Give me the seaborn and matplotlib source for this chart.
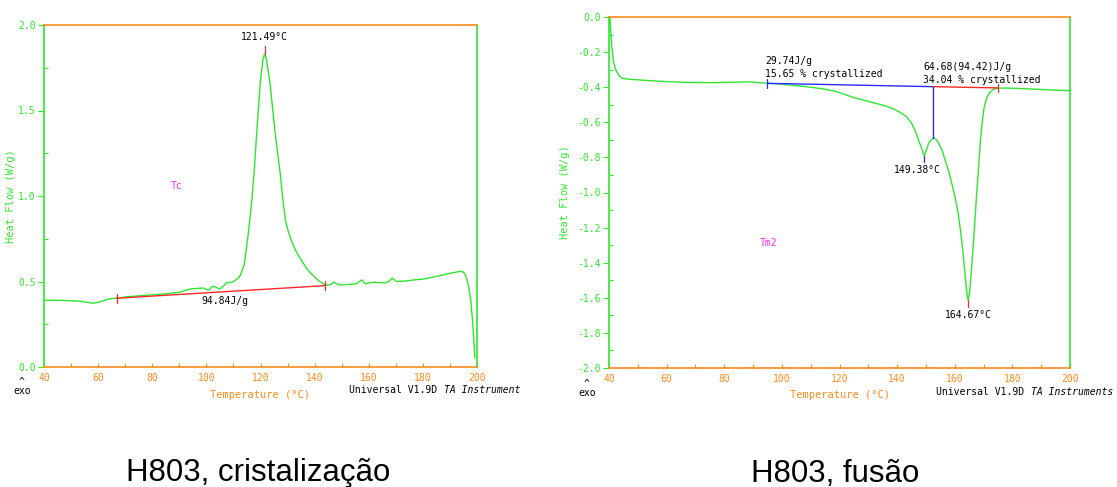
import matplotlib
matplotlib.use("Agg")
import matplotlib.pyplot as plt
import seaborn as sns
import numpy as np
import pandas as pd
from matplotlib.ticker import MultipleLocator, FormatStrFormatter
from matplotlib.transforms import Bbox, TransformedBbox

# ---- crystallization scan (cooling) ----
cryst_temp = [40, 45, 50, 53, 56, 58, 60, 62, 64, 66, 68, 70, 75, 80, 85, 90, 92, 94, 97, 99,
              100.4, 101.2, 102, 103, 104, 104.9, 106, 107.5, 109.4, 110.5, 112.2, 113.0, 114.0,
              115.5, 116.8, 117.7, 118.6, 119.9, 120.9, 121.49, 122.2, 123.5, 125.4, 127.3, 128.3,
              129.3, 130.5, 132.0, 133.7, 135.5, 136.9, 138.5, 140.1, 141.5, 143.3, 144.5, 146.0,
              147.1, 147.8, 149, 152, 155.5, 157.4, 158.7, 160, 162, 164, 166.3, 167.8, 168.6,
              169.5, 170.2, 173, 177.2, 181, 184.9, 188, 190, 192, 193.9, 195, 195.8, 196.8,
              197.7, 198.3, 198.7, 199.2]
cryst_flow = [0.390, 0.390, 0.388, 0.385, 0.378, 0.373, 0.378, 0.388, 0.397, 0.402, 0.404, 0.410,
              0.416, 0.422, 0.428, 0.437, 0.447, 0.456, 0.460, 0.462, 0.450, 0.452, 0.470, 0.470,
              0.463, 0.456, 0.470, 0.493, 0.495, 0.505, 0.525, 0.555, 0.600, 0.780, 0.975, 1.150,
              1.370, 1.660, 1.800, 1.830, 1.800, 1.660, 1.370, 1.130, 0.975, 0.850, 0.780, 0.715,
              0.660, 0.615, 0.580, 0.550, 0.525, 0.505, 0.486, 0.478, 0.482, 0.497, 0.490, 0.480,
              0.482, 0.487, 0.510, 0.486, 0.492, 0.496, 0.493, 0.492, 0.505, 0.520, 0.510, 0.500,
              0.502, 0.510, 0.516, 0.530, 0.540, 0.548, 0.554, 0.560, 0.555, 0.535, 0.480, 0.390,
              0.280, 0.190, 0.055]
cryst_base_temp = [66.8, 144.0]
cryst_base_flow = [0.402, 0.476]
cryst_peak_temp = 121.49
cryst_peak_flow = 1.830
cryst_enthalpy = "94.84J/g"

# ---- melting scan (second heating) ----
melt_temp = [40.3, 40.6, 40.9, 41.5, 42.2, 42.8, 43.7, 44.7, 47, 50, 54.3, 60, 67.1, 75, 80, 85,
             88.3, 92, 95.3, 100, 105.5, 110, 114.5, 119, 124.7, 128, 131.1, 134.5, 137.5, 140.5,
             143.3, 145, 146.5, 147.6, 148.4, 149.0, 149.38, 149.8, 150.3, 151.0, 151.6, 152.6,
             153.4, 154.2, 155.5, 156.7, 158.0, 159.3, 160.3, 161.2, 162.1, 162.9, 163.6, 164.2,
             164.67, 165.1, 165.6, 166.3, 167.0, 167.6, 168.3, 168.9, 169.6, 170.2, 171.0, 172.1,
             173.3, 174.7, 178, 182.3, 186, 190, 195, 200]
melt_flow = [0.000, -0.080, -0.155, -0.250, -0.295, -0.316, -0.338, -0.350, -0.355, -0.358, -0.363,
             -0.368, -0.373, -0.374, -0.373, -0.371, -0.369, -0.374, -0.378, -0.383, -0.392, -0.400,
             -0.410, -0.425, -0.458, -0.472, -0.486, -0.500, -0.515, -0.538, -0.568, -0.605, -0.657,
             -0.710, -0.742, -0.775, -0.790, -0.775, -0.750, -0.718, -0.704, -0.690, -0.695, -0.713,
             -0.755, -0.817, -0.885, -0.970, -1.040, -1.120, -1.230, -1.347, -1.470, -1.574, -1.615,
             -1.580, -1.480, -1.328, -1.160, -1.006, -0.850, -0.704, -0.590, -0.515, -0.465, -0.430,
             -0.413, -0.405, -0.405, -0.407, -0.410, -0.413, -0.417, -0.420]
melt_base1_temp = [95.0, 152.6]
melt_base1_flow = [-0.378, -0.397]
melt_base2_temp = [152.6, 175.0]
melt_base2_flow = [-0.397, -0.404]
melt_split_flow = -0.690
melt_peak1_temp, melt_peak1_flow = 149.38, -0.790
melt_peak2_temp, melt_peak2_flow = 164.67, -1.615
melt_label1 = "29.74J/g\n15.65 % crystallized"
melt_label2 = "64.68(94.42)J/g\n34.04 % crystallized"

captions = ["H803, cristalização", "H803, fusão"]

GREEN = "#2ee62e"
ORANGE = "#ff8a1c"
RED = "#ff2a2a"
BLUE = "#2a2aff"
MAGENTA = "#ff22ff"
MONO = "DejaVu Sans Mono"

sns.set_theme(style="white")
plt.rcParams["axes.unicode_minus"] = False
plt.rcParams["font.family"] = ["DejaVu Sans"]

fig = plt.figure(figsize=(11.17, 4.87), dpi=100)
W, H = 1117, 487
ax1 = fig.add_axes([44 / W, 1 - 367 / H, (477 - 44) / W, (367 - 25) / H])
ax2 = fig.add_axes([609 / W, 1 - 368 / H, (1070 - 609) / W, (368 - 17) / H])


def style_axes(ax, ylim, ymajor, yminor, ylabel_x):
    ax.set_xlim(40, 200)
    ax.set_ylim(*ylim)
    ax.xaxis.set_major_locator(MultipleLocator(20))
    ax.xaxis.set_minor_locator(MultipleLocator(10))
    ax.yaxis.set_major_locator(MultipleLocator(ymajor))
    ax.yaxis.set_minor_locator(MultipleLocator(yminor))
    ax.yaxis.set_major_formatter(FormatStrFormatter("%.1f"))
    ax.xaxis.set_major_formatter(FormatStrFormatter("%d"))
    for side in ("left", "right"):
        ax.spines[side].set_color(GREEN)
        ax.spines[side].set_linewidth(1.2)
    for side in ("top", "bottom"):
        ax.spines[side].set_color(ORANGE)
        ax.spines[side].set_linewidth(1.2)
    ax.tick_params(axis="x", which="both", direction="in", colors=ORANGE, labelsize=7,
                   bottom=True, top=False, pad=4, length=3, width=0.8)
    ax.tick_params(axis="y", which="major", direction="out", length=4, width=0.8,
                   colors=GREEN, labelsize=7, left=True, pad=2)
    ax.tick_params(axis="y", which="minor", direction="in", length=3, width=0.8,
                   colors=GREEN, left=True)
    for lab in ax.get_xticklabels() + ax.get_yticklabels():
        lab.set_family(MONO)
    ax.set_xlabel("Temperature (°C)", color=ORANGE, family=MONO, fontsize=7.5, labelpad=5)
    ax.set_ylabel("Heat Flow (W/g)", color=GREEN, family=MONO, fontsize=7.5)
    ax.yaxis.set_label_coords(ylabel_x, 0.5)
    ax.grid(False)
    ax.set_facecolor("white")


# left: crystallization exotherm
df1 = pd.DataFrame({"T": cryst_temp, "HF": cryst_flow})
sns.lineplot(data=df1, x="T", y="HF", ax=ax1, color=GREEN, lw=1.0, estimator=None, sort=False)
style_axes(ax1, (0.0, 2.0), 0.5, 0.25, (16 - 44) / 433)
sns.lineplot(x=cryst_base_temp, y=cryst_base_flow, ax=ax1, color=RED, lw=1.0, estimator=None)
for t, f in zip(cryst_base_temp, cryst_base_flow):
    ax1.plot([t, t], [f - 0.026, f + 0.026], color=RED, lw=0.9)
ax1.plot([cryst_peak_temp, cryst_peak_temp], [cryst_peak_flow, cryst_peak_flow + 0.05],
         color=RED, lw=0.9)
ax1.text(cryst_peak_temp, cryst_peak_flow + 0.07, f"{cryst_peak_temp:.2f}°C", ha="center",
         va="bottom", family=MONO, fontsize=7, color="black")
ax1.text(107, 0.385, cryst_enthalpy, ha="center", va="center", family=MONO, fontsize=7,
         color="black")
ax1.text(89, 1.06, "Tc", ha="center", va="center", family=MONO, fontsize=7, color=MAGENTA)

# right: melting endotherm with partial areas
df2 = pd.DataFrame({"T": melt_temp, "HF": melt_flow})
sns.lineplot(data=df2, x="T", y="HF", ax=ax2, color=GREEN, lw=1.0, estimator=None, sort=False)
style_axes(ax2, (-2.0, 0.0), 0.2, 0.1, (570 - 609) / 461)
ax2.plot(melt_base1_temp, melt_base1_flow, color=BLUE, lw=1.0)
ax2.plot(melt_base2_temp, melt_base2_flow, color=RED, lw=1.0)
ax2.plot([melt_base1_temp[1]] * 2, [melt_base1_flow[1], melt_split_flow], color=BLUE, lw=1.0)
ax2.plot([melt_base1_temp[0]] * 2, [melt_base1_flow[0] - 0.025, melt_base1_flow[0] + 0.025],
         color=BLUE, lw=0.9)
ax2.plot([melt_base2_temp[1]] * 2, [melt_base2_flow[1] - 0.025, melt_base2_flow[1] + 0.025],
         color=RED, lw=0.9)
ax2.plot([melt_peak1_temp] * 2, [melt_peak1_flow, melt_peak1_flow - 0.035], color=BLUE, lw=0.9)
ax2.plot([melt_peak2_temp] * 2, [melt_peak2_flow, melt_peak2_flow - 0.035], color=RED, lw=0.9)
ax2.text(94.3, -0.225, melt_label1, ha="left", va="top", family=MONO, fontsize=7,
         color="black", linespacing=1.35)
ax2.text(149.0, -0.255, melt_label2, ha="left", va="top", family=MONO, fontsize=7,
         color="black", linespacing=1.35)
ax2.text(melt_peak1_temp - 2.5, -0.87, f"{melt_peak1_temp:.2f}°C", ha="center", va="center",
         family=MONO, fontsize=7, color="black")
ax2.text(melt_peak2_temp + 0.2, -1.70, f"{melt_peak2_temp:.2f}°C", ha="center", va="center",
         family=MONO, fontsize=7, color="black")
ax2.text(95.5, -1.29, "Tm2", ha="center", va="center", family=MONO, fontsize=7, color=MAGENTA)

# instrument footer and exo direction marks
for x_exo, x_uni, clip_right, y_row in ((22, 349, 521, 390), (587, 936, 1117, 392)):
    fig.text(x_exo / W, 1 - (y_row - 8) / H, "^", ha="center", va="center",
             family=MONO, fontsize=7, color="black")
    fig.text(x_exo / W, 1 - (y_row + 1) / H, "exo", ha="center", va="center",
             family=MONO, fontsize=7, color="black")
    t1 = fig.text(x_uni / W, 1 - y_row / H, "Universal V1.9D ", ha="left", va="center",
                  family=MONO, fontsize=7, color="black")
    t2 = fig.text((x_uni + 95) / W, 1 - y_row / H, "TA Instruments", ha="left", va="center",
                  family=MONO, style="italic", fontsize=7, color="black")
    clip = TransformedBbox(Bbox([[0, 0], [clip_right / W, 1]]), fig.transFigure)
    for t in (t1, t2):
        t.set_clip_box(clip)
        t.set_clip_on(True)

# panel captions
for cx, cap in zip((258, 835), captions):
    fig.text(cx / W, 1 - 481.5 / H, cap, ha="center", va="baseline",
             family="Liberation Sans", fontsize=22.5, color="black")

fig.savefig("out.png", dpi=100, facecolor="white")
